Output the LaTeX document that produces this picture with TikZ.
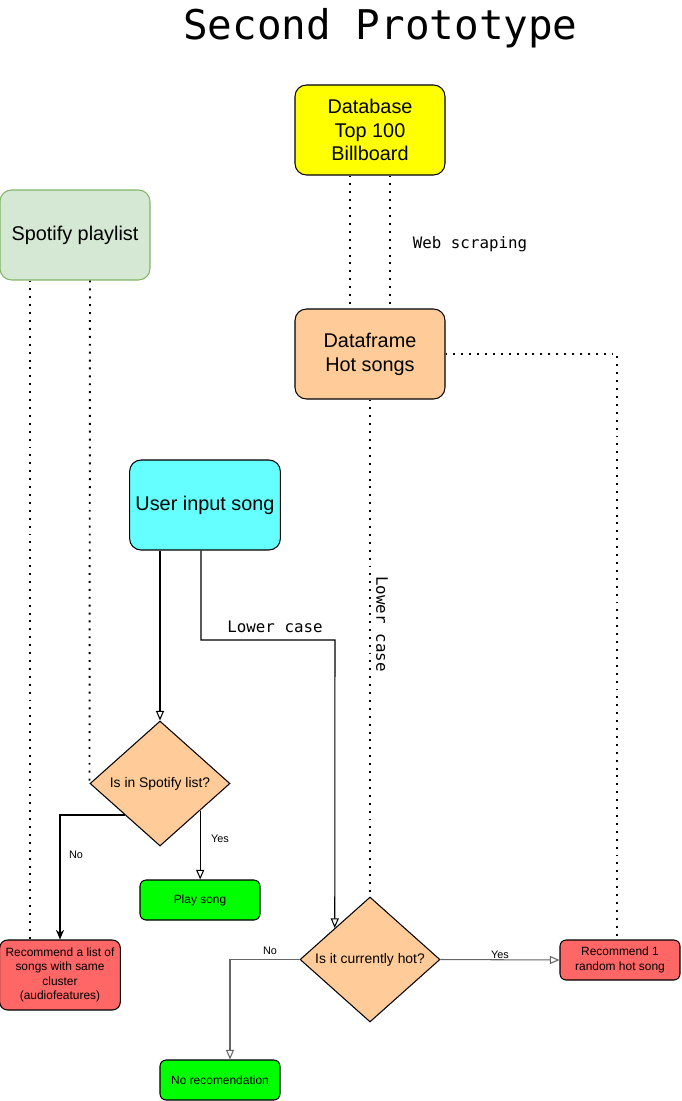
\documentclass[tikz,border=0pt]{standalone}
\usepackage{fontspec}
\setmainfont{Liberation Sans}
\newfontfamily\codefont{DejaVu Sans Mono}
\usetikzlibrary{shapes.geometric, arrows.meta, calc}

\definecolor{dbyellow}{HTML}{FFFF00}
\definecolor{spotgreen}{HTML}{D5E8D4}
\definecolor{spotline}{HTML}{82B366}
\definecolor{hotorange}{HTML}{FFCC99}
\definecolor{usercyan}{HTML}{66FFFF}
\definecolor{okgreen}{HTML}{00FF00}
\definecolor{recred}{HTML}{FF6666}

\begin{document}
\begin{tikzpicture}[x=0.02cm, y=-0.02cm, big/.style={draw, rounded corners=6.5pt, minimum width=3cm, minimum height=1.8cm, align=center, line width=0.6pt, font=\fontsize{11.3}{13.6}\selectfont}, small/.style={draw, rounded corners=3.5pt, minimum width=2.4cm, minimum height=0.8cm, align=center, line width=0.6pt, font=\fontsize{6.8}{8.2}\selectfont}, dec/.style={draw, diamond, fill=hotorange, minimum width=2.8cm, minimum height=2.5cm, inner sep=0pt, line width=0.6pt, font=\fontsize{7.9}{9.5}\selectfont}, code/.style={font=\codefont\fontsize{9}{11}\selectfont}, lbl/.style={font=\fontsize{6.2}{7.5}\selectfont}, n/.style={line width=0.6pt, -{Triangle[open, length=5.5pt, width=4.6pt]}}, g/.style={n, draw=black!60}, f/.style={line width=0.6pt, -{Stealth[length=5.5pt, width=4.6pt]}}, d/.style={line width=1.1pt, dash pattern=on 1.1pt off 3.4pt}]
            \useasboundingbox (0,0) rectangle (681,1101);
            % nodes
            \node[anchor=base, font=\codefont\fontsize{23.3}{28}\selectfont] (title) at (380.5,40) {Second Prototype};
            \node[big, fill=dbyellow] (db) at (370,130) {Database\\Top 100\\Billboard};
            \node[big, fill=spotgreen, draw=spotline] (spotify) at (75,235) {Spotify playlist};
            \node[big, fill=hotorange] (hot) at (370,354) {Dataframe\\Hot songs};
            \node[big, fill=usercyan] (user) at (205,505) {User input song};
            \node[dec] (inspot) at (160,783.5) {Is in Spotify list?};
            \node[small, fill=okgreen] (play) at (200,900) {Play song};
            \node[small, fill=recred, minimum height=1.4cm, rounded corners=4.5pt] (reclist) at (60,975) {Recommend a list of\\songs with same\\cluster\\(audiofeatures)};
            \node[dec] (ishot) at (370,959.5) {Is it currently hot?};
            \node[small, fill=recred] (rechot) at (620,960) {Recommend 1\\random hot song};
            \node[small, fill=okgreen] (norec) at (220,1080) {No recomendation};
            \coordinate (bend) at (335,640);
            % labels
            \node[code] (scrape) at (470,244) {Web scraping};
            \node[code] (lower1) at (275,627) {Lower case};
            \node[code, rotate=-90] (lower2) at (382,624) {Lower case};
            \node[lbl] (yes1) at (220,839) {Yes};
            \node[lbl] (no1) at (76,855) {No};
            \node[lbl] (yes2) at (500,955) {Yes};
            \node[lbl] (no2) at (270,951) {No};
            % edges
            \draw [d] ($(db.south)+(-20,0)$) -- ($(hot.north)+(-20,0)$);
            \draw [d] ($(db.south)+(20,0)$) -- ($(hot.north)+(20,0)$);
            \draw [d] ($(spotify.south)+(-45,0)$) -- ($(reclist.north)+(-30,0)$);
            \draw [d] ($(spotify.south)+(15,0)$) -- (inspot.west);
            \draw [d] (hot.south) -- (ishot.north);
            \draw [d] (hot.east) -| ($(rechot.north)+(-3,0)$);
            \draw [n] ($(user.south)+(-45,0)$) -- (inspot.north);
            \draw [n] ($(user.south)+(-4,0)$) |- (bend) -- (ishot.north west);
            \draw [n] (inspot.-34) -- (inspot.-34 |- play.north);
            \draw [f] (inspot.south west) -| (reclist.north);
            \draw [g] (ishot.east) -- (rechot.west);
            \draw [g] (ishot.west) -| ($(norec.north)+(10,0)$);
        \end{tikzpicture}
\end{document}
